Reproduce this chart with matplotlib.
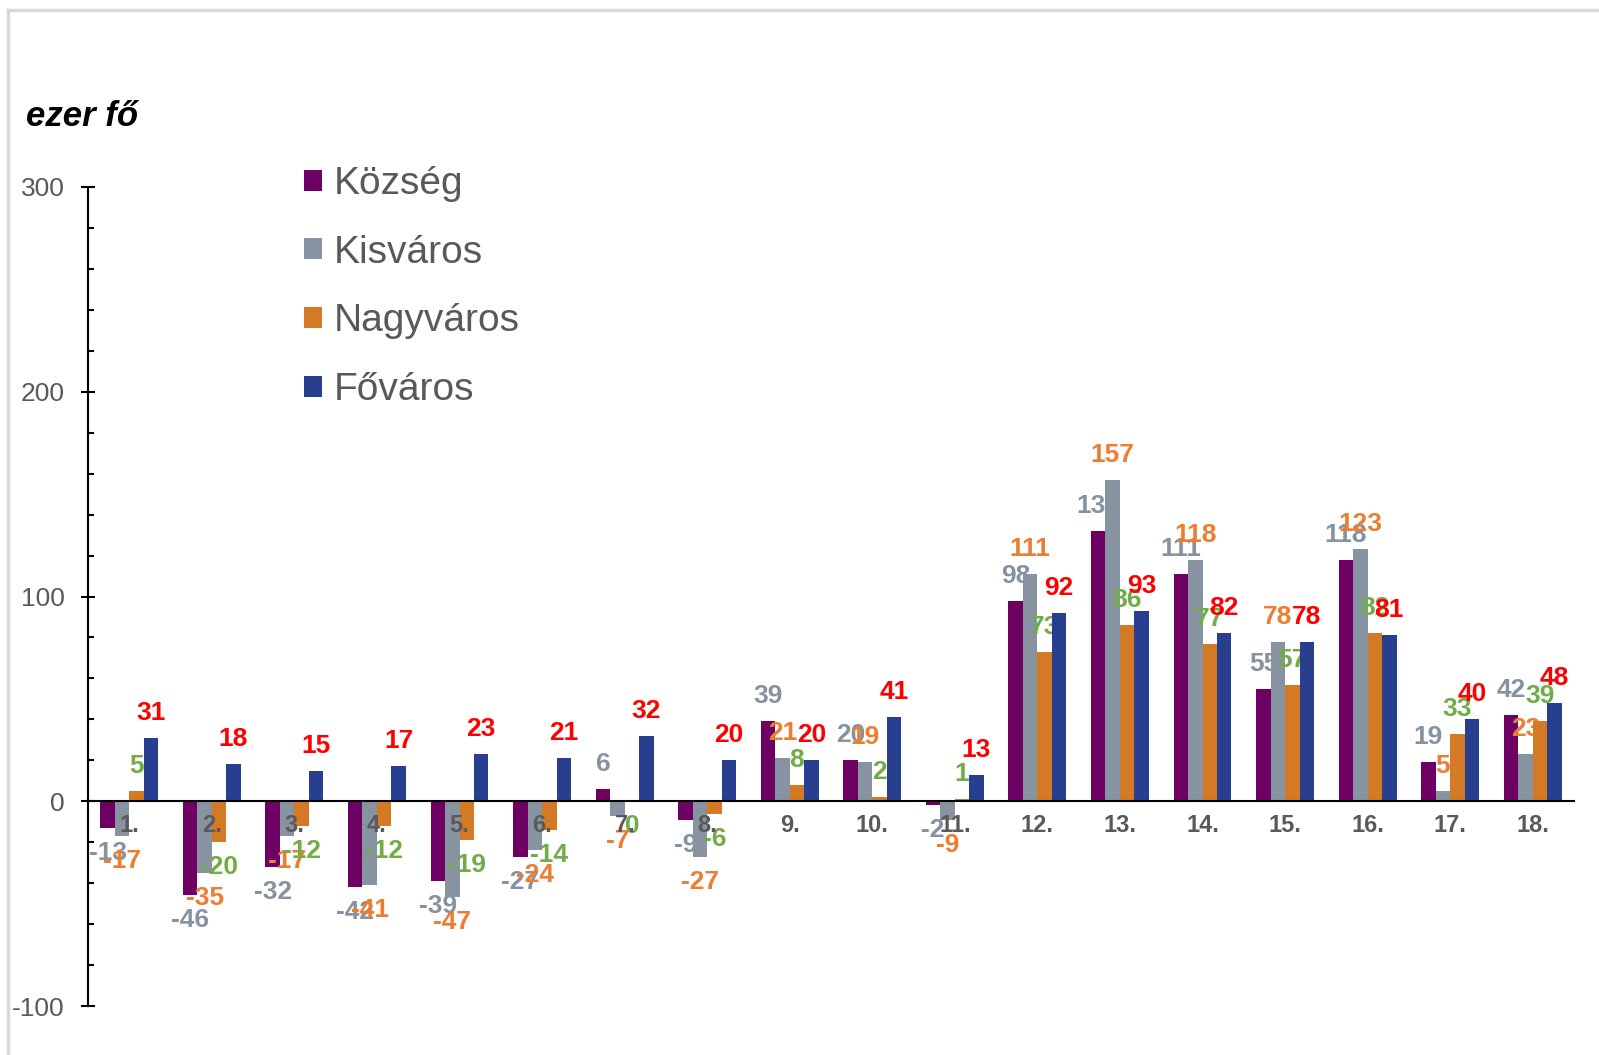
import matplotlib
matplotlib.use('Agg')
import matplotlib.pyplot as plt
import numpy as np
from matplotlib.patches import Patch
from matplotlib.lines import Line2D
from matplotlib.ticker import MultipleLocator

plt.rcParams['font.family'] = ['Liberation Sans', 'DejaVu Sans']
plt.rcParams['axes.unicode_minus'] = False

# ezer fő, 18 periods
categories = [f'{i}.' for i in range(1, 19)]
series_names = ['Község', 'Kisváros', 'Nagyváros', 'Főváros']
kozseg = [-13, -46, -32, -42, -39, -27, 6, -9, 39, 20, -2, 98, 132, 111, 55, 118, 19, 42]
kisvaros = [-17, -35, -17, -41, -47, -24, -7, -27, 21, 19, -9, 111, 157, 118, 78, 123, 5, 23]
nagyvaros = [5, -20, -12, -12, -19, -14, 0, -6, 8, 2, 1, 73, 86, 77, 57, 82, 33, 39]
fovaros = [31, 18, 15, 17, 23, 21, 32, 20, 20, 41, 13, 92, 93, 82, 78, 81, 40, 48]

bar_colors = ['#6D0062', '#8793A0', '#D47A24', '#283F8F']
# the data labels use a shifted palette in the original
label_colors = ['#8593A0', '#ED7D31', '#70AD47', '#FF0000']
gray_text = '#595959'

fig = plt.figure(figsize=(15.99, 10.55), dpi=100)
ax = fig.add_axes([88 / 1599, 49 / 1055, 1486 / 1599, 819 / 1055])

x = np.arange(len(categories))
w = 0.175
all_series = [kozseg, kisvaros, nagyvaros, fovaros]
for i, vals in enumerate(all_series):
    xs = x + (i - 1.5) * w
    ax.bar(xs, vals, width=w, color=bar_colors[i], zorder=2 + 2 * i)
    for xi, v in zip(xs, vals):
        off = 18 if v > 0 else -18
        ax.annotate(str(v), (xi, v), xytext=(0, off), textcoords='offset points',
                    ha='center', va='center', fontsize=19, fontweight='bold',
                    color=label_colors[i], zorder=3 + 2 * i)

ax.set_xlim(-0.5, len(categories) - 0.5)
ax.set_ylim(-100, 300)

ax.spines['top'].set_visible(False)
ax.spines['right'].set_visible(False)
ax.spines['bottom'].set_position(('data', 0))
ax.spines['bottom'].set_linewidth(1.5)
ax.spines['left'].set_linewidth(1.5)
ax.spines['bottom'].set_zorder(15)

ax.set_xticks(x)
ax.set_xticklabels(categories, fontsize=17, fontweight='bold', color=gray_text)
ax.tick_params(axis='x', length=0, pad=9)
ax.xaxis.set_zorder(20)

ax.yaxis.set_major_locator(MultipleLocator(100))
ax.yaxis.set_minor_locator(MultipleLocator(20))
ax.tick_params(axis='y', which='major', direction='inout', length=10, width=1.5,
               labelsize=19, labelcolor=gray_text, pad=12)
ax.tick_params(axis='y', which='minor', direction='in', length=4, width=1.5)

handles = [Patch(facecolor=c) for c in bar_colors]
fig.legend(handles, series_names, loc='upper left',
           bbox_to_anchor=(304 / 1599, 1 - 166 / 1055), frameon=False,
           fontsize=28, labelcolor=gray_text, handlelength=0.46, handleheight=0.46,
           handletextpad=0.3, labelspacing=0.84, borderpad=0, borderaxespad=0)

fig.text(26 / 1599, 1 - 117 / 1055, 'ezer fő', fontsize=25, fontweight='bold',
         fontstyle='italic', va='center', ha='left', color='black')

# light frame on the left and top edges
fig.add_artist(Line2D([8 / 1599, 8 / 1599], [0, 1 - 10 / 1055], color='#D9D9D9', lw=2.5))
fig.add_artist(Line2D([8 / 1599, 1], [1 - 10 / 1055, 1 - 10 / 1055], color='#D9D9D9', lw=2.5))

fig.savefig('out.png', dpi=100)
